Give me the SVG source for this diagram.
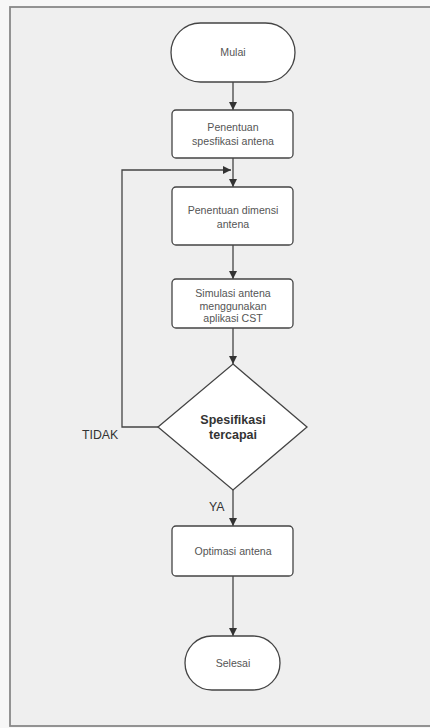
<svg xmlns="http://www.w3.org/2000/svg" width="430" height="728" viewBox="0 0 430 728">
<style>
.n{fill:#ffffff;stroke:#444;stroke-width:1.3}
.t{font-family:"Liberation Sans",Arial,sans-serif;font-size:10.6px;fill:#555;text-anchor:middle}
.b{font-family:"Liberation Sans",Arial,sans-serif;font-size:12.5px;font-weight:bold;fill:#333;text-anchor:middle}
.l{font-family:"Liberation Sans",Arial,sans-serif;font-size:12.3px;fill:#333}
.c{fill:none;stroke:#444;stroke-width:1.3}
</style>
<defs>
<marker id="ah" viewBox="0 0 10 10" refX="10" refY="5" markerWidth="8" markerHeight="8" markerUnits="userSpaceOnUse" orient="auto">
<path d="M0,0 L10,5 L0,10 z" fill="#333"/>
</marker>
</defs>
<rect x="0" y="0" width="430" height="728" fill="#f7f7f7"/>
<rect x="10" y="7" width="425" height="719" fill="#efefef" stroke="#888" stroke-width="1.8"/>
<g id="connectors">
<line class="c" x1="233" y1="82" x2="233" y2="110" marker-end="url(#ah)"/>
<line class="c" x1="233" y1="158" x2="233" y2="187" marker-end="url(#ah)"/>
<line class="c" x1="233" y1="245" x2="233" y2="279" marker-end="url(#ah)"/>
<line class="c" x1="233" y1="328" x2="233" y2="364" marker-end="url(#ah)"/>
<polyline class="c" points="158,427 122,427 122,170 231,170" marker-end="url(#ah)"/>
<line class="c" x1="233" y1="490" x2="233" y2="526" marker-end="url(#ah)"/>
<line class="c" x1="233" y1="576" x2="233" y2="636" marker-end="url(#ah)"/>
<text class="l" x="82" y="439">TIDAK</text>
<text class="l" x="209" y="511">YA</text>
</g>
<g id="mulai">
<rect class="n" x="171" y="23" width="124" height="59" rx="29.5"/>
<text class="t" x="233" y="56">Mulai</text>
</g>
<g id="spesifikasi">
<rect class="n" x="172" y="110" width="121" height="48" rx="4"/>
<text class="t" x="233" y="131">Penentuan</text>
<text class="t" x="233" y="145">spesfikasi antena</text>
</g>
<g id="dimensi">
<rect class="n" x="172" y="187" width="121" height="58" rx="4"/>
<text class="t" x="233" y="214">Penentuan dimensi</text>
<text class="t" x="233" y="228">antena</text>
</g>
<g id="simulasi">
<rect class="n" x="172" y="279" width="121" height="49" rx="4"/>
<text class="t" x="233" y="297">Simulasi antena</text>
<text class="t" x="233" y="310">menggunakan</text>
<text class="t" x="233" y="322">aplikasi CST</text>
</g>
<g id="keputusan">
<polygon class="n" points="233,364 307,427 233,490 158,427"/>
<text class="b" x="233" y="424">Spesifikasi</text>
<text class="b" x="233" y="439">tercapai</text>
</g>
<g id="optimasi">
<rect class="n" x="172" y="526" width="121" height="50" rx="4"/>
<text class="t" x="233" y="555">Optimasi antena</text>
</g>
<g id="selesai">
<rect class="n" x="185" y="636" width="95" height="54" rx="27"/>
<text class="t" x="233" y="667">Selesai</text>
</g>
</svg>
